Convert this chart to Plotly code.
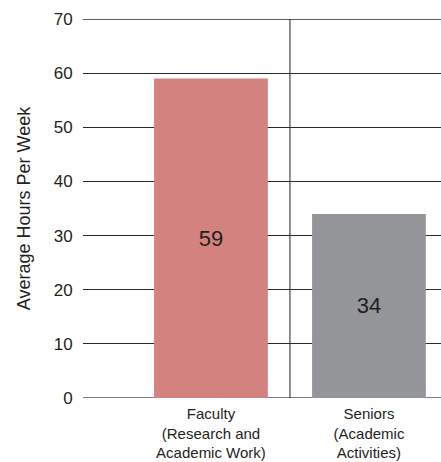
import plotly.graph_objects as go

categories = ["Faculty<br>(Research and<br>Academic Work)", "Seniors<br>(Academic<br>Activities)"]
values = [59, 34]
labels = ["59", "34"]
colors = ["#D4827F", "#939598"]
y_ticks = [0, 10, 20, 30, 40, 50, 60, 70]

xpos = list(range(len(categories)))
grid_color = "#2a2a2a"

fig = go.Figure()
fig.add_trace(go.Bar(
    x=xpos, y=values, width=0.72,
    marker=dict(color=colors, line=dict(width=0)),
    text=labels, textposition="inside", insidetextanchor="middle",
    textfont=dict(size=22, color="#231F20", family="Liberation Sans, Arial"),
    textangle=0,
))

fig.add_shape(type="line", xref="x", yref="y", x0=0.5, x1=0.5, y0=0, y1=70,
              line=dict(color="#231F20", width=1), layer="below")
for yv in (y_ticks[0], y_ticks[-1]):
    fig.add_shape(type="line", xref="paper", yref="y", x0=0, x1=1, y0=yv, y1=yv,
                  line=dict(color="#555555" if yv == 0 else grid_color, width=1.3), layer="below")

fig.update_layout(
    width=441, height=462,
    margin=dict(l=83, r=0, t=19, b=64),
    plot_bgcolor="white", paper_bgcolor="white",
    showlegend=False,
    font=dict(family="Liberation Sans, Arial", color="#231F20"),
    xaxis=dict(
        range=[-0.81, 1.456], tickmode="array", tickvals=xpos, ticktext=categories,
        showgrid=False, zeroline=False, showline=False,
        tickfont=dict(size=15, color="#231F20"), ticks="outside", ticklen=2, tickcolor="white",
    ),
    yaxis=dict(
        range=[0, 70], tickvals=y_ticks, showgrid=True, gridcolor=grid_color, gridwidth=1,
        zeroline=False, showline=False, ticks="outside", ticklen=6, tickcolor="white",
        tickfont=dict(size=17, color="#231F20"),
        title=dict(text="Average Hours Per Week", font=dict(size=18, color="#231F20"), standoff=18),
    ),
)
fig.write_html("out.html")
